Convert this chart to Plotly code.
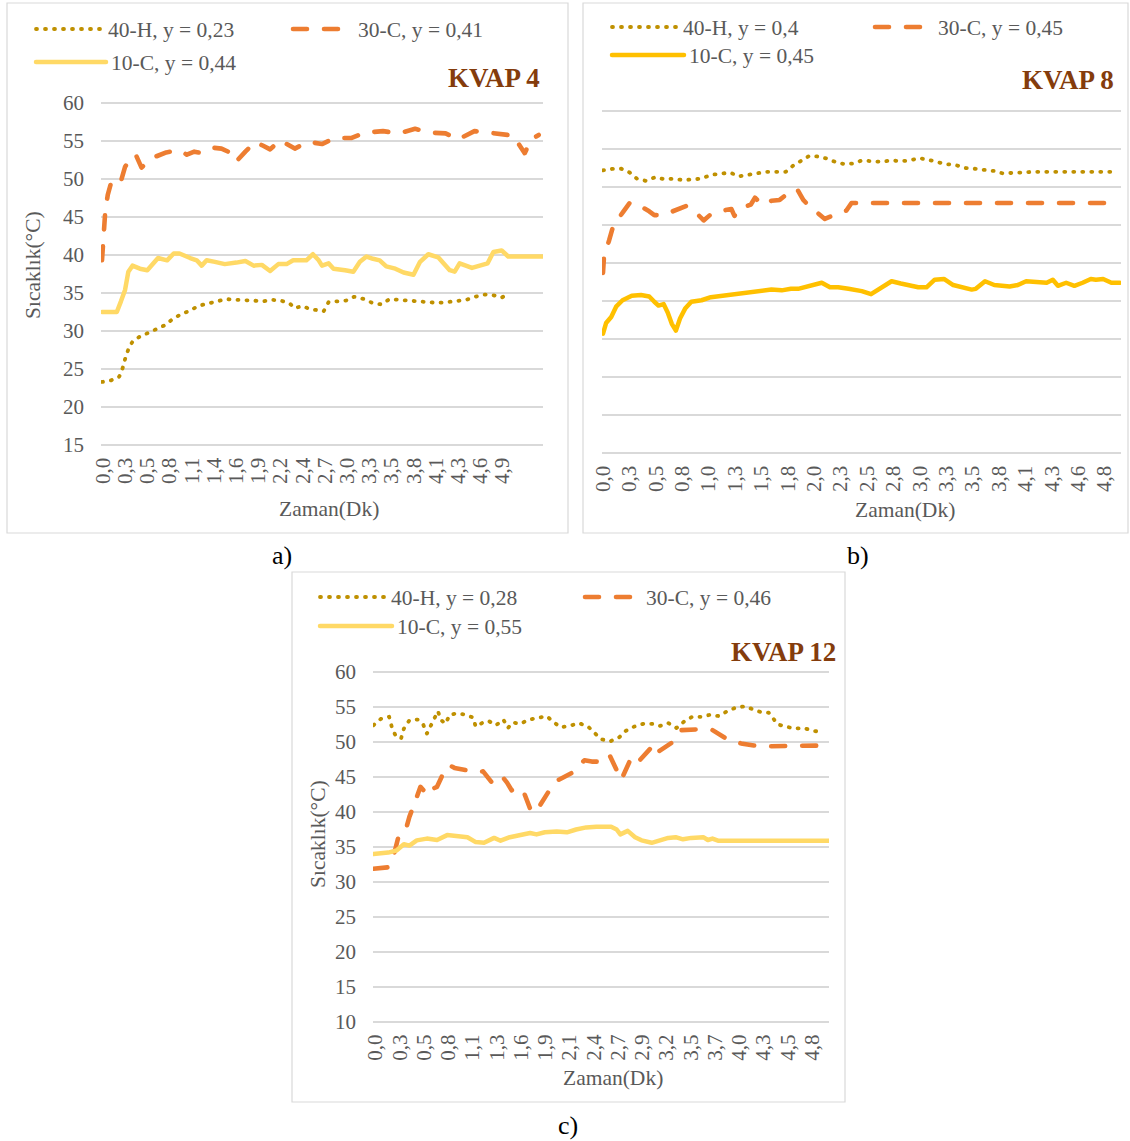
import plotly.graph_objects as go

W, H = 1130, 1141
FONT = "Liberation Serif"
GREY = "#595959"
GRID = "#D9D9D9"
C40 = "#BF9000"
C30 = "#ED7D31"
C10_LIGHT = "#FFD966"
C10_DARK = "#FFC000"
TITLE_C = "#843C0C"

# ---------------- data: panel a (KVAP 4) ----------------
A_40H_T = [0.00,0.11,0.21,0.25,0.28,0.32,0.37,0.45,0.55,0.66,0.77,0.86,0.96,1.07,1.17,1.28,1.40,1.51,1.62,1.73,1.84,1.95,2.06,2.17,2.28,2.34,2.43,2.52,2.61,2.69,2.75,2.85,2.96,3.06,3.18,3.28,3.39,3.49,3.60,3.72,3.84,3.96,4.07,4.19,4.31,4.42,4.53,4.64,4.75,4.85,4.95]
A_40H_V = [23.3,23.5,24.0,25.1,26.3,27.6,28.6,29.2,29.7,30.2,30.8,31.6,32.2,32.7,33.3,33.6,33.9,34.2,34.1,34.1,34.0,33.9,34.1,34.0,33.6,33.0,33.3,32.9,32.8,32.6,33.8,33.9,34.0,34.5,34.2,33.7,33.5,34.2,34.1,33.9,33.9,33.7,33.7,33.8,33.9,34.1,34.5,34.8,34.7,34.4,35.0]
A_30C_T = [0.00,0.01,0.03,0.04,0.07,0.12,0.18,0.23,0.28,0.34,0.41,0.48,0.56,0.64,0.78,0.94,1.03,1.12,1.21,1.36,1.45,1.53,1.57,1.63,1.74,1.86,1.95,2.04,2.16,2.25,2.34,2.50,2.58,2.67,2.83,2.93,3.03,3.19,3.30,3.41,3.60,3.70,3.80,3.98,4.08,4.17,4.32,4.42,4.52,4.70,4.80,4.91,5.00,5.04,5.13,5.21,5.30]
A_30C_V = [39.3,41.3,43.6,45.8,47.9,49.9,49.8,49.7,51.6,52.5,53.2,51.5,52.3,52.9,53.5,53.8,53.2,53.6,53.4,54.1,54.0,53.6,52.7,52.3,53.6,54.9,54.4,53.9,55.1,54.5,54.0,54.9,54.8,54.6,55.4,55.4,55.4,56.1,56.2,56.3,56.0,56.3,56.6,56.1,56.0,56.0,55.2,55.8,56.3,56.1,56.0,55.8,55.7,54.9,53.4,55.2,55.8]
A_10C_T = [0.00,0.18,0.23,0.28,0.32,0.37,0.46,0.55,0.68,0.79,0.87,0.94,1.07,1.15,1.21,1.27,1.37,1.49,1.63,1.74,1.84,1.94,2.04,2.14,2.24,2.32,2.48,2.56,2.63,2.67,2.75,2.81,2.95,3.05,3.13,3.21,3.29,3.37,3.45,3.56,3.66,3.78,3.86,3.96,4.08,4.22,4.28,4.34,4.49,4.61,4.68,4.75,4.85,4.93,5.36]
A_10C_V = [32.5,32.5,33.9,35.4,37.8,38.6,38.2,38.0,39.6,39.3,40.2,40.2,39.6,39.3,38.6,39.3,39.1,38.8,39.0,39.2,38.6,38.7,37.9,38.8,38.8,39.3,39.3,40.1,39.3,38.6,38.9,38.2,38.0,37.8,39.1,39.8,39.5,39.3,38.5,38.2,37.7,37.4,39.1,40.1,39.7,38.0,37.8,38.9,38.3,38.7,38.9,40.4,40.6,39.8,39.8]
A_TICKS = ["0,0","0,3","0,5","0,8","1,1","1,4","1,6","1,9","2,2","2,4","2,7","3,0","3,3","3,5","3,8","4,1","4,3","4,6","4,9"]

# ---------------- data: panel b (KVAP 8) ----------------
B_40H_T = [0.00,0.10,0.18,0.26,0.33,0.42,0.51,0.60,0.69,0.78,0.87,0.96,1.05,1.15,1.24,1.32,1.41,1.50,1.59,1.69,1.78,1.85,1.93,2.01,2.10,2.19,2.28,2.36,2.44,2.52,2.61,2.71,2.80,2.90,2.99,3.08,3.16,3.26,3.34,3.43,3.53,3.62,3.72,3.81,3.89,3.99,4.08,4.18,4.50,4.95]
B_40H_V = [52.2,52.4,52.4,51.9,51.1,50.8,51.3,51.0,51.1,50.9,51.0,51.1,51.6,51.8,51.9,51.4,51.6,51.8,52.0,52.0,52.0,52.8,53.5,54.1,54.0,53.7,53.2,53.0,53.1,53.5,53.4,53.3,53.5,53.4,53.5,53.8,53.6,53.2,53.0,52.9,52.5,52.4,52.2,52.1,51.8,51.8,51.9,52.0,52.0,52.0]
B_30C_T = [0.00,0.01,0.06,0.10,0.20,0.26,0.31,0.38,0.45,0.50,0.58,0.66,0.74,0.81,0.87,0.93,0.98,1.04,1.09,1.17,1.25,1.28,1.32,1.38,1.44,1.48,1.53,1.59,1.64,1.72,1.78,1.85,1.90,1.95,2.00,2.05,2.11,2.16,2.23,2.30,2.37,2.42,2.48,5.04]
B_30C_V = [38.7,40.9,43.0,44.9,46.8,47.9,47.9,47.4,46.8,46.3,46.3,46.7,47.1,47.5,47.1,46.3,45.6,46.3,46.6,46.9,47.1,46.2,47.0,47.4,47.7,48.6,47.9,47.7,48.2,48.3,49.0,49.7,49.5,48.3,47.6,47.0,46.3,45.8,46.2,46.6,46.9,47.9,47.9,47.9]
B_10C_T = [0.00,0.03,0.08,0.13,0.19,0.28,0.37,0.45,0.50,0.54,0.59,0.63,0.67,0.71,0.75,0.80,0.86,0.96,1.05,1.18,1.28,1.41,1.54,1.64,1.74,1.83,1.90,1.98,2.06,2.13,2.21,2.29,2.39,2.52,2.61,2.71,2.81,2.90,3.07,3.15,3.23,3.32,3.41,3.59,3.63,3.72,3.81,3.96,4.04,4.12,4.25,4.32,4.38,4.43,4.51,4.59,4.67,4.75,4.80,4.87,4.95,5.03]
B_10C_V = [30.7,32.1,32.9,34.3,35.1,35.7,35.8,35.6,34.9,34.4,34.6,33.5,32.0,31.1,32.7,34.0,34.9,35.1,35.5,35.7,35.9,36.2,36.4,36.5,36.4,36.6,36.6,36.9,37.1,37.4,36.8,36.8,36.6,36.3,35.9,36.7,37.6,37.3,36.8,36.8,37.8,37.9,37.1,36.5,36.6,37.6,37.1,36.9,37.1,37.6,37.5,37.4,37.8,37.0,37.4,37.0,37.4,37.9,37.8,37.9,37.4,37.4]
B_TICKS = ["0,0","0,3","0,5","0,8","1,0","1,3","1,5","1,8","2,0","2,3","2,5","2,8","3,0","3,3","3,5","3,8","4,1","4,3","4,6","4,8"]

# ---------------- data: panel c (KVAP 12) ----------------
C_40H_T = [0.00,0.08,0.17,0.20,0.24,0.30,0.33,0.39,0.48,0.54,0.58,0.61,0.65,0.70,0.73,0.78,0.83,0.91,1.00,1.08,1.11,1.19,1.25,1.33,1.41,1.46,1.51,1.59,1.69,1.78,1.88,1.95,2.03,2.13,2.23,2.33,2.40,2.47,2.57,2.67,2.74,2.83,2.93,3.02,3.11,3.20,3.29,3.37,3.46,3.56,3.66,3.75,3.84,3.93,4.03,4.12,4.20,4.29,4.39,4.48,4.57,4.67,4.77,4.88]
C_40H_V = [52.4,53.3,53.6,52.1,50.9,50.5,51.9,53.1,53.2,52.5,51.2,52.0,53.3,54.4,53.2,52.6,53.9,54.1,53.9,53.5,52.2,52.8,53.0,52.4,53.2,52.0,52.8,52.6,53.2,53.4,53.7,52.9,52.1,52.3,52.7,52.2,51.2,50.4,50.1,50.7,51.6,52.2,52.6,52.6,52.3,52.7,52.0,52.9,53.6,53.6,53.9,53.7,54.4,54.9,55.1,54.6,54.3,54.2,52.5,52.2,51.9,52.0,51.6,51.4]
C_30C_T = [0.00,0.16,0.23,0.27,0.35,0.39,0.45,0.51,0.55,0.60,0.64,0.69,0.76,0.82,0.88,0.96,1.05,1.12,1.19,1.28,1.34,1.39,1.45,1.50,1.57,1.63,1.70,1.75,1.81,1.91,2.01,2.09,2.17,2.29,2.37,2.44,2.49,2.56,2.65,2.69,2.79,2.84,2.89,2.95,3.01,3.05,3.09,3.17,3.25,3.34,3.52,3.68,3.76,3.84,3.99,4.13,4.31,4.94]
C_30C_V = [31.9,32.1,34.3,36.4,37.4,39.3,41.4,43.6,43.0,42.4,43.3,43.6,45.6,46.7,46.3,46.1,46.0,45.7,45.8,44.3,45.1,45.2,44.2,43.1,43.5,42.9,40.5,39.9,41.0,43.1,44.6,45.2,45.7,47.4,47.2,47.2,47.8,48.2,45.9,44.6,47.5,48.1,47.4,48.3,49.2,49.7,48.6,49.3,50.0,51.7,51.8,51.7,51.0,50.4,49.8,49.5,49.4,49.5]
C_10C_T = [0.00,0.16,0.25,0.33,0.39,0.47,0.58,0.69,0.80,0.91,1.02,1.11,1.20,1.31,1.38,1.48,1.59,1.70,1.77,1.86,1.99,2.10,2.20,2.31,2.42,2.58,2.64,2.68,2.76,2.84,2.91,3.02,3.11,3.20,3.28,3.36,3.45,3.58,3.63,3.68,3.74,4.94]
C_10C_V = [34.0,34.2,34.5,35.4,35.2,35.95,36.2,36.0,36.7,36.5,36.4,35.7,35.6,36.3,35.9,36.4,36.7,37.0,36.8,37.1,37.2,37.1,37.5,37.8,37.9,37.9,37.5,36.8,37.3,36.4,35.95,35.6,35.95,36.3,36.4,36.1,36.3,36.4,36.0,36.2,35.9,35.9]
C_TICKS = ["0,0","0,3","0,5","0,8","1,1","1,3","1,6","1,9","2,1","2,4","2,7","2,9","3,2","3,5","3,7","4,0","4,3","4,5","4,8"]

LEG_A = ["40-H, y = 0,23", "30-C, y = 0,41", "10-C, y = 0,44"]
LEG_B = ["40-H, y = 0,4", "30-C, y = 0,45", "10-C, y = 0,45"]
LEG_C = ["40-H, y = 0,28", "30-C, y = 0,46", "10-C, y = 0,55"]

DOT = dict(color=C40, width=3.8, dash="1px,8px")
DASH = dict(width=4.6, dash="14px,17px")


def px_x(px):
    return px / W


def px_y(py):
    return 1 - py / H


def lg(k):
    return "legend" if k == 1 else "legend%d" % k


fig = go.Figure()

panels = [
    ("", (A_40H_T, A_40H_V), (A_30C_T, A_30C_V), (A_10C_T, A_10C_V), LEG_A, C10_LIGHT, 1),
    ("2", (B_40H_T, B_40H_V), (B_30C_T, B_30C_V), (B_10C_T, B_10C_V), LEG_B, C10_DARK, 4),
    ("3", (C_40H_T, C_40H_V), (C_30C_T, C_30C_V), (C_10C_T, C_10C_V), LEG_C, C10_LIGHT, 7),
]

for suf, s40, s30, s10, names, c10, l0 in panels:
    fig.add_trace(go.Scatter(x=s40[0], y=s40[1], mode="lines", name=names[0],
                             line=DOT, xaxis="x" + suf, yaxis="y" + suf, legend=lg(l0)))
    fig.add_trace(go.Scatter(x=s30[0], y=s30[1], mode="lines", name=names[1],
                             line=dict(color=C30, **DASH), xaxis="x" + suf, yaxis="y" + suf, legend=lg(l0 + 1)))
    fig.add_trace(go.Scatter(x=s10[0], y=s10[1], mode="lines", name=names[2],
                             line=dict(color=c10, width=4.5), xaxis="x" + suf, yaxis="y" + suf, legend=lg(l0 + 2)))

tickfont = dict(family=FONT, size=21, color=GREY)


def xaxis(left, right, rng, off, step, labels, anchor):
    return dict(domain=[px_x(left), px_x(right)], range=rng, anchor=anchor, automargin=False,
                tickmode="array", tickvals=[off + i * step for i in range(len(labels))],
                ticktext=labels, tickangle=-90, tickfont=tickfont, showgrid=False,
                zeroline=False, showline=False, ticks="", ticklabelstandoff=6)


def yaxis(top_px, bot_px, rng, vals, anchor, show=True):
    return dict(domain=[px_y(bot_px), px_y(top_px)], range=rng, anchor=anchor, automargin=False,
                tickmode="array", tickvals=vals, showgrid=True, gridcolor=GRID, gridwidth=1.5,
                zeroline=False, showline=False, ticks="", tickfont=tickfont,
                showticklabels=show, ticklabelstandoff=16)


A_Y = list(range(15, 61, 5))
C_Y = list(range(10, 61, 5))

layout = dict(
    width=W, height=H, margin=dict(l=0, r=0, t=0, b=0, pad=0, autoexpand=False),
    paper_bgcolor="white", plot_bgcolor="white", showlegend=True,
    font=dict(family=FONT, color=GREY),
    xaxis=xaxis(101, 543, [-0.012, 5.352], 0.012, 0.2694, A_TICKS, "y"),
    yaxis=yaxis(101.48, 446.52, [14.8, 60.2], A_Y, "x"),
    xaxis2=xaxis(602, 1121, [-0.0097, 5.044], 0.0, 0.2571, B_TICKS, "y2"),
    yaxis2=yaxis(109.48, 454.52, [14.8, 60.2], A_Y, "x2", show=False),
    xaxis3=xaxis(373, 829, [-0.005, 4.945], 0.023, 0.2633, C_TICKS, "y3"),
    yaxis3=yaxis(670.6, 1023.4, [9.8, 60.2], C_Y, "x3"),
)


def leg(xl, yc, iw):
    return dict(x=px_x(xl), y=px_y(yc), xanchor="left", yanchor="middle",
                orientation="h", itemwidth=iw, bgcolor="rgba(0,0,0,0)", borderwidth=0,
                font=dict(family=FONT, size=21.5, color=GREY), tracegroupgap=0, visible=True)


legpos = [(31, 29, 67), (288, 29, 60), (31, 62, 70),
          (607, 27, 66), (870, 27, 58), (607, 55, 72),
          (315, 597, 66), (580, 597, 56), (315, 626, 72)]
for i, (xl, yc, iw) in enumerate(legpos, start=1):
    layout[lg(i)] = leg(xl, yc, iw)

shapes = []
for x0, y0, x1, y1 in [(7, 3, 568, 533), (583, 3, 1128, 533), (292, 572, 845, 1102)]:
    shapes.append(dict(type="rect", xref="paper", yref="paper", x0=px_x(x0), x1=px_x(x1),
                       y0=px_y(y1), y1=px_y(y0), line=dict(color=GRID, width=1.2),
                       fillcolor="rgba(0,0,0,0)", layer="below"))
layout["shapes"] = shapes


def ann(text, xp, yp, size=21.5, color=GREY, xanchor="center", angle=0):
    return dict(text=text, x=px_x(xp), y=px_y(yp), xref="paper", yref="paper",
                showarrow=False, xanchor=xanchor, yanchor="middle", textangle=angle,
                font=dict(family=FONT, size=size, color=color))


layout["annotations"] = [
    ann("<b>KVAP 4</b>", 542, 78, size=27, color=TITLE_C, xanchor="right"),
    ann("<b>KVAP 8</b>", 1116, 80, size=27, color=TITLE_C, xanchor="right"),
    ann("<b>KVAP 12</b>", 838, 652, size=27, color=TITLE_C, xanchor="right"),
    ann("Zaman(Dk)", 329, 509),
    ann("Zaman(Dk)", 905, 510),
    ann("Zaman(Dk)", 613, 1078),
    ann("Sıcaklık(°C)", 33, 265, angle=-90),
    ann("Sıcaklık(°C)", 318, 834, angle=-90),
    ann("a)", 282, 555, size=26, color="black"),
    ann("b)", 858, 555, size=26, color="black"),
    ann("c)", 568, 1125, size=26, color="black"),
]

fig.update_layout(**layout)

JS = ("document.body.style.margin='0';document.body.style.padding='0';"
      "document.body.style.overflow='hidden';"
      "var s=document.createElement('style');"
      "s.innerHTML='body{margin:0 !important;} .js-line{stroke-linecap:round !important;stroke-linejoin:round !important;}';"
      "document.head.appendChild(s);")
fig.write_html("out.html", post_script=JS, config={"responsive": False, "displayModeBar": False})
